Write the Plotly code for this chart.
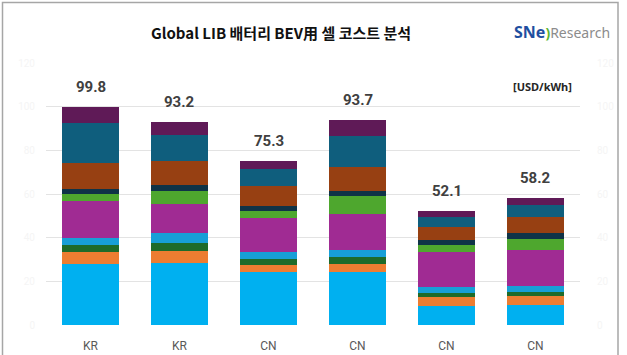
import plotly.graph_objects as go

categories = ["KR", "KR", "CN", "CN", "CN", "CN"]
totals = [99.8, 93.2, 75.3, 93.7, 52.1, 58.2]

seg_cyan = [28.0, 28.4, 24.2, 24.3, 8.7, 9.0]
seg_orange = [5.3, 5.5, 3.5, 3.8, 4.1, 4.15]
seg_dkgreen = [3.2, 3.7, 2.6, 3.1, 1.7, 1.85]
seg_blue = [3.5, 4.45, 3.3, 3.2, 2.9, 3.0]
seg_magenta = [17.0, 13.45, 15.6, 16.5, 16.2, 16.4]
seg_green = [2.8, 6.1, 2.8, 8.1, 2.9, 5.0]
seg_navy = [2.4, 2.3, 2.6, 2.6, 2.3, 2.65]
seg_brown = [12.0, 11.3, 9.2, 10.9, 6.0, 7.45]
seg_teal = [18.3, 11.65, 7.8, 14.0, 4.7, 5.55]
seg_purple = [7.3, 6.35, 3.7, 7.2, 2.6, 3.15]

y_ticks = [0, 20, 40, 60, 80, 100, 120]

series = [
    ("Item 1", seg_cyan, "#00B0F0"),
    ("Item 2", seg_orange, "#ED7D31"),
    ("Item 3", seg_dkgreen, "#1E6B2A"),
    ("Item 4", seg_blue, "#179FD7"),
    ("Item 5", seg_magenta, "#A02B93"),
    ("Item 6", seg_green, "#4EA72E"),
    ("Item 7", seg_navy, "#0F3347"),
    ("Item 8", seg_brown, "#974012"),
    ("Item 9", seg_teal, "#0F5E7D"),
    ("Item 10", seg_purple, "#5F1A57"),
]

xs = list(range(len(categories)))

fig = go.Figure()
for name, vals, color in series:
    fig.add_trace(go.Bar(
        x=xs, y=vals, name=name,
        marker=dict(color=color, line=dict(width=0)),
        showlegend=False,
    ))

# invisible trace for right axis
fig.add_trace(go.Scatter(x=[0], y=[0], yaxis="y2", mode="markers",
                         marker=dict(opacity=0), showlegend=False, hoverinfo="skip"))

for i, t in enumerate(totals):
    fig.add_annotation(x=i, y=t, text=f"{t}", showarrow=False,
                       yanchor="bottom", yshift=9,
                       font=dict(family="Roboto", size=15, color="#404040", weight="bold"))

L, R, T, B = 46, 47, 63, 30
W, H = 627, 355
pw, ph = W - L - R, H - T - B

def px_x(p):
    return (p - L) / pw

def px_y(p):
    return (H - B - p) / ph

fig.add_shape(type="rect", xref="paper", yref="paper",
              x0=px_x(2.5), x1=px_x(618), y0=px_y(362), y1=px_y(2.5),
              line=dict(color="#A6A6A6", width=1.5), fillcolor="rgba(0,0,0,0)", layer="above")

fig.add_annotation(xref="paper", yref="paper", x=px_x(281), y=px_y(33),
                   text="Global LIB 배터리 BEV用 셀 코스트 분석", showarrow=False,
                   xanchor="center", yanchor="middle",
                   font=dict(family="Noto Sans CJK KR", size=15, color="#111111", weight="bold"))

fig.add_annotation(xref="paper", yref="paper", x=px_x(612), y=px_y(32),
                   text="<b><span style='color:#1F4FA0;font-size:16px'>SNe</span></b><span style='color:#5DB531'><b>)</b></span><span style='color:#8C8C8C'>Research</span>",
                   showarrow=False, xanchor="right", yanchor="middle",
                   font=dict(family="Noto Sans", size=14))

fig.add_annotation(xref="paper", yref="paper", x=px_x(542), y=px_y(86),
                   text="[USD/kWh]", showarrow=False, xanchor="center", yanchor="middle",
                   font=dict(family="Noto Sans", size=11, color="#262626", weight="bold"))

fig.update_layout(
    width=W, height=H,
    margin=dict(l=L, r=R, t=T, b=B),
    barmode="stack", bargap=0.37,
    plot_bgcolor="white", paper_bgcolor="white",
    xaxis=dict(tickmode="array", tickvals=xs, ticktext=categories,
               range=[-0.5, len(categories) - 0.5], showgrid=False, zeroline=False,
               showline=False, ticks="", ticklabelstandoff=12, automargin=False,
               tickfont=dict(family="Roboto", size=12, color="#595959")),
    yaxis=dict(range=[0, 120], tickvals=y_ticks, showgrid=True, gridcolor="#E3E3E3",
               gridwidth=1, zeroline=False, showline=False, ticks="",
               ticklabelstandoff=10, automargin=False,
               tickfont=dict(family="Roboto", size=10, color="#F5F5F5")),
    yaxis2=dict(range=[0, 120], tickvals=y_ticks, overlaying="y", side="right",
                showgrid=False, zeroline=False, showline=False, ticks="",
                ticklabelstandoff=16, automargin=False,
                tickfont=dict(family="Roboto", size=10, color="#F5F5F5")),
)

fig.write_html("out.html", config={"displayModeBar": False},
               post_script="document.body.style.margin='0';document.body.style.padding='0';document.body.style.overflow='hidden';")
